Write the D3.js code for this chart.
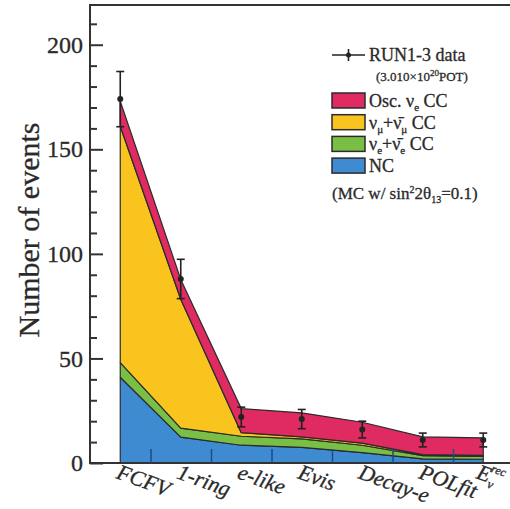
<!DOCTYPE html>
<html>
<head>
<meta charset="utf-8">
<script src="https://cdn.jsdelivr.net/npm/d3@7"></script>
<style>
  body { margin: 0; background: #fff; }
  svg { display: block; }
  text { font-family: "Liberation Serif", "DejaVu Serif", serif; fill: #2a2a2a; stroke: #2a2a2a; stroke-width: 0.3px; }
</style>
</head>
<body>
<svg id="chart" width="510" height="509"></svg>
<script>
// selection steps
var cuts = ["FCFV", "1-ring", "e-like", "Evis", "Decay-e", "POLfit", "Erec"];
// data points (RUN1-3) and stat errors
var dataEvents = [174, 88, 22, 21, 16, 11, 11];
var dataErrors = [13.2, 9.4, 4.7, 4.6, 4.0, 3.3, 3.3];
// MC components, bottom to top
var ncMC   = [41, 12.4, 8.5, 7.5, 5.0, 2.0, 1.8];
var nueBkg = [7, 4.3, 4.3, 4.0, 3.5, 1.5, 1.4];
var numuCC = [113, 61.6, 1.7, 1.0, 1.0, 0.5, 0.4];
var oscNue = [12, 9.5, 11.5, 11.5, 10.0, 8.5, 8.4];
var yTicks = [0, 50, 100, 150, 200];

var svg = d3.select("#chart");
var x = d3.scaleLinear().domain([-0.5, 6.5]).range([90, 513.5]);
var y = d3.scaleLinear().domain([0, 219]).range([463, 5]);

var rows = cuts.map(function(c, i) {
  return { i: i, nc: ncMC[i], nue: nueBkg[i], numu: numuCC[i], osc: oscNue[i] };
});
var keys = ["nc", "nue", "numu", "osc"];
var colors = { nc: "#3f8bd2", nue: "#79bf45", numu: "#f9c41d", osc: "#df2a62" };
var series = d3.stack().keys(keys)(rows);

var area = d3.area()
  .x(function(d) { return x(d.data.i); })
  .y0(function(d) { return y(d[0]); })
  .y1(function(d) { return y(d[1]); });

svg.selectAll("path.band").data(series).enter().append("path")
  .attr("class", "band")
  .attr("d", area)
  .attr("fill", function(s) { return colors[s.key]; })
  .attr("stroke", "#2b2b2b")
  .attr("stroke-width", 1.2)
  .attr("stroke-linejoin", "round");

// frame
svg.append("path")
  .attr("d", "M" + x(6.5) + "," + y.range()[1] + "H" + x(-0.5) + "V" + y(0) + "H" + x(6.5))
  .attr("fill", "none").attr("stroke", "#333").attr("stroke-width", 2);

// y axis ticks (inside)
var minor = d3.range(0, 220, 10).filter(function(v) { return v % 50 != 0; });
var gMinor = svg.append("g").attr("transform", "translate(90,0)")
  .call(d3.axisLeft(y).tickValues(minor).tickSize(-7).tickFormat(""));
var gMajor = svg.append("g").attr("transform", "translate(90,0)")
  .call(d3.axisLeft(y).tickValues(yTicks).tickSize(-13).tickPadding(7));
[gMinor, gMajor].forEach(function(g) {
  g.select(".domain").remove();
  g.selectAll("line").attr("stroke", "#333").attr("stroke-width", 2);
});
gMajor.selectAll("text")
  .style("font-family", "'Liberation Serif', serif")
  .style("font-size", "24px").attr("fill", "#2a2a2a");

// x axis ticks between categories
var gx = svg.append("g").attr("transform", "translate(0," + y(0) + ")")
  .call(d3.axisBottom(x).tickValues(d3.range(0.5, 6, 1)).tickSize(-14).tickFormat(""));
gx.select(".domain").remove();
gx.selectAll("line").attr("stroke", "#1f4d80").attr("stroke-width", 1.5);

// category labels
var labels = svg.append("g");
cuts.forEach(function(c, i) {
  var last = (c == "Erec");
  var t = labels.append("text")
    .attr("transform", "translate(" + (x(i) - (last ? 8 : 5)) + ",478) rotate(20)")
    .style("font-size", "22px").style("font-style", "italic");
  if (last) {
    t.append("tspan").text("E");
    t.append("tspan").attr("dy", 5).style("font-size", "13px").text("ν");
    t.append("tspan").attr("dx", -7).attr("dy", -16).style("font-size", "12px").text("rec");
  } else {
    t.text(c);
  }
});

// y title
svg.append("text")
  .attr("transform", "translate(39,230) rotate(-90)")
  .attr("text-anchor", "middle")
  .style("font-size", "30px")
  .text("Number of events");

// data error bars
var pts = svg.append("g");
dataEvents.forEach(function(v, i) {
  var cx = x(i);
  pts.append("line").attr("x1", cx).attr("x2", cx)
    .attr("y1", y(v + dataErrors[i])).attr("y2", y(v - dataErrors[i]))
    .attr("stroke", "#222").attr("stroke-width", 1.6);
  [v + dataErrors[i], v - dataErrors[i]].forEach(function(e) {
    pts.append("line").attr("x1", cx - 4).attr("x2", cx + 4)
      .attr("y1", y(e)).attr("y2", y(e))
      .attr("stroke", "#222").attr("stroke-width", 1.6);
  });
  pts.append("circle").attr("cx", cx).attr("cy", y(v)).attr("r", 3).attr("fill", "#222");
});

// legend
var lg = svg.append("g");
lg.append("line").attr("x1", 332).attr("x2", 365).attr("y1", 55).attr("y2", 55)
  .attr("stroke", "#222").attr("stroke-width", 1.6);
lg.append("line").attr("x1", 348.5).attr("x2", 348.5).attr("y1", 49).attr("y2", 61)
  .attr("stroke", "#222").attr("stroke-width", 1.6);
lg.append("circle").attr("cx", 348.5).attr("cy", 55).attr("r", 2.5).attr("fill", "#222");
lg.append("text").attr("x", 369).attr("y", 61).style("font-size", "18px").text("RUN1-3 data");
var pot = lg.append("text").attr("x", 376).attr("y", 81).style("font-size", "13px");
pot.append("tspan").text("(3.010×10");
pot.append("tspan").attr("dy", -5).style("font-size", "9px").text("20");
pot.append("tspan").attr("dy", 5).text("POT)");

var entries = [
  { key: "osc", parts: [["Osc. ν", 0], ["e", 1], [" CC", 0]] },
  { key: "numu", parts: [["ν", 0], ["μ", 1], ["+ν̄", 0], ["μ", 1], [" CC", 0]] },
  { key: "nue", parts: [["ν", 0], ["e", 1], ["+ν̄", 0], ["e", 1], [" CC", 0]] },
  { key: "nc", parts: [["NC", 0]] }
];
entries.forEach(function(e, k) {
  var yy = 93 + k * 21.7;
  lg.append("rect").attr("x", 332).attr("y", yy).attr("width", 33).attr("height", 15)
    .attr("fill", colors[e.key]).attr("stroke", "#2b2b2b").attr("stroke-width", 1.5);
  var t = lg.append("text").attr("x", 369).attr("y", yy + 14).style("font-size", "18px");
  var sub = false;
  e.parts.forEach(function(p) {
    var ts = t.append("tspan").text(p[0]);
    if (p[1] && !sub) { ts.attr("dy", 4).style("font-size", "11px"); sub = true; }
    else if (!p[1] && sub) { ts.attr("dy", -4); sub = false; }
  });
});
var mc = lg.append("text").attr("x", 332).attr("y", 199).style("font-size", "17px");
mc.append("tspan").text("(MC w/ sin");
mc.append("tspan").attr("dy", -6).style("font-size", "10px").text("2");
mc.append("tspan").attr("dy", 6).text("2θ");
mc.append("tspan").attr("dy", 4).style("font-size", "10px").text("13");
mc.append("tspan").attr("dy", -4).text("=0.1)");
</script>
</body>
</html>
